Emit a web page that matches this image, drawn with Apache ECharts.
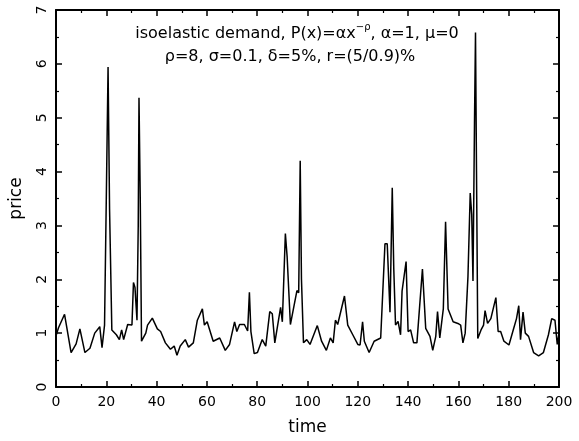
<!DOCTYPE html>
<html>
<head>
<meta charset="utf-8">
<script src="https://cdn.jsdelivr.net/npm/echarts@6/dist/echarts.min.js"></script>
<style>html,body{margin:0;padding:0;background:#fff;}#c{width:579px;height:441px;}</style>
</head>
<body>
<div id="c"></div>
<script>
var times = [0, 1, 3.4, 6, 8, 9.5, 11.5, 13.5, 15.4, 17.4, 18.3, 19.3, 20, 20.7, 21.3, 22.2, 24, 25.2, 26.1, 26.9, 28.5, 30.2, 30.8, 31.4, 32.2, 32.7, 33, 33.5, 34, 35.7, 36.4, 38.3, 40.3, 41.6, 43.5, 45.5, 47, 48.1, 49.4, 51.4, 52.7, 54.6, 56.2, 58.2, 59, 60.1, 62.5, 65.1, 67.3, 69, 71, 71.9, 73, 74.9, 76.2, 76.9, 77.5, 78.8, 80.1, 82, 83.4, 85, 86, 87, 89.3, 90, 91.2, 91.9, 93.2, 95.8, 96.5, 97.1, 97.6, 98.4, 99.7, 101, 103.9, 105.6, 107.5, 109.1, 110.2, 111.1, 112, 114.7, 116, 118, 120, 120.9, 121.9, 122.6, 124.5, 126.5, 129.1, 130.8, 131.7, 132.8, 133.7, 134.3, 135, 136, 137, 137.6, 139.2, 140, 141, 142.2, 143.5, 145.7, 147, 148.7, 149.8, 151, 151.7, 152.6, 154, 154.9, 155.9, 157.9, 159.8, 160.9, 161.8, 162.7, 163.8, 164.7, 165.3, 165.8, 166.4, 166.8, 167.2, 167.7, 169, 170, 170.6, 171.6, 172.9, 174.9, 175.8, 176.8, 178.1, 180.1, 182, 183.1, 184, 184.7, 185.7, 186.6, 187.9, 189.9, 191.9, 193.8, 195.8, 197.1, 198.4, 199.3, 200];
var prices = [0.95, 1.1, 1.35, 0.64, 0.8, 1.08, 0.64, 0.72, 1.0, 1.12, 0.73, 1.15, 3.5, 5.94, 3.3, 1.06, 0.97, 0.88, 1.06, 0.88, 1.16, 1.15, 1.94, 1.85, 1.24, 3.0, 5.37, 3.5, 0.85, 1.0, 1.15, 1.28, 1.08, 1.03, 0.82, 0.7, 0.76, 0.59, 0.76, 0.88, 0.74, 0.82, 1.24, 1.45, 1.15, 1.21, 0.85, 0.91, 0.68, 0.79, 1.21, 1.03, 1.16, 1.16, 1.04, 1.76, 1.03, 0.62, 0.64, 0.88, 0.76, 1.4, 1.36, 0.82, 1.48, 1.21, 2.85, 2.42, 1.16, 1.79, 1.75, 4.2, 2.0, 0.82, 0.88, 0.79, 1.14, 0.85, 0.68, 0.91, 0.82, 1.24, 1.16, 1.69, 1.15, 0.97, 0.79, 0.78, 1.21, 0.85, 0.64, 0.85, 0.91, 2.66, 2.66, 1.39, 3.7, 2.2, 1.15, 1.22, 0.97, 1.78, 2.33, 1.03, 1.06, 0.82, 0.82, 2.19, 1.09, 0.94, 0.68, 0.94, 1.4, 0.91, 1.45, 3.07, 1.45, 1.21, 1.18, 1.15, 0.82, 1.0, 2.05, 3.6, 3.2, 1.97, 4.9, 6.58, 4.0, 0.9, 1.06, 1.15, 1.42, 1.18, 1.27, 1.66, 1.03, 1.03, 0.85, 0.78, 1.09, 1.27, 1.51, 0.88, 1.39, 1.0, 0.94, 0.64, 0.58, 0.64, 0.97, 1.27, 1.24, 0.79, 1.0];
var xTicks = [0, 20, 40, 60, 80, 100, 120, 140, 160, 180, 200];
var yTicks = [0, 1, 2, 3, 4, 5, 6, 7];
var titleLine1 = 'isoelastic demand, P(x)=αx';
var titleSup = '−ρ';
var titleLine1b = ', α=1, μ=0';
var titleLine2 = 'ρ=8, σ=0.1, δ=5%, r=(5/0.9)%';
var xName = 'time';
var yName = 'price';

var FONT = 'DejaVu Sans';
var chart = echarts.init(document.getElementById('c'), null, {renderer: 'canvas'});
var data = times.map(function (t, i) { return [t, prices[i]]; });

function xAx(pos, showLabel) {
  return {
    type: 'value', position: pos, min: xTicks[0], max: xTicks[xTicks.length - 1], interval: 20,
    name: showLabel ? xName : '', nameLocation: 'middle', nameGap: 32,
    nameTextStyle: {fontFamily: FONT, fontSize: 17, color: '#000'},
    axisLine: {show: true, onZero: false, lineStyle: {color: '#000', width: 2}},
    axisTick: {show: true, inside: true, length: 6, lineStyle: {color: '#000', width: 1.5}},
    minorTick: {show: true, splitNumber: 2, length: 3, lineStyle: {color: '#000', width: 1.2}},
    axisLabel: {show: showLabel, margin: 8, fontFamily: FONT, fontSize: 14, color: '#000'},
    splitLine: {show: false}
  };
}
function yAx(pos, showLabel) {
  return {
    type: 'value', position: pos, min: yTicks[0], max: yTicks[yTicks.length - 1], interval: 1,
    name: showLabel ? yName : '', nameLocation: 'middle', nameGap: 31, nameRotate: 90,
    nameTextStyle: {fontFamily: FONT, fontSize: 17, color: '#000'},
    axisLine: {show: true, onZero: false, lineStyle: {color: '#000', width: 2}},
    axisTick: {show: true, inside: true, length: 6, lineStyle: {color: '#000', width: 1.5}},
    minorTick: {show: true, splitNumber: 2, length: 3, lineStyle: {color: '#000', width: 1.2}},
    axisLabel: {show: showLabel, rotate: 90, margin: 7, fontFamily: FONT, fontSize: 14, color: '#000'},
    splitLine: {show: false}
  };
}

chart.setOption({
  animation: false,
  backgroundColor: '#fff',
  grid: {left: 49, right: 20, top: 10, bottom: 48, containLabel: false},
  xAxis: [xAx('bottom', true), xAx('top', false)],
  yAxis: [yAx('left', true), yAx('right', false)],
  graphic: [
    {type: 'text', x: 297, y: 32, z: 10,
      style: {
        text: '{a|' + titleLine1 + '}{s|' + titleSup + '}{a|' + titleLine1b + '}',
        textAlign: 'center', textVerticalAlign: 'middle',
        rich: {
          a: {fontFamily: FONT, fontSize: 16, fill: '#000', verticalAlign: 'bottom'},
          s: {fontFamily: FONT, fontSize: 10, fill: '#000', verticalAlign: 'bottom', padding: [0, 0, 9, 0]}
        }
      }},
    {type: 'text', x: 290, y: 57, z: 10,
      style: {text: titleLine2, fontFamily: FONT, fontSize: 16, fill: '#000',
        textAlign: 'center', textVerticalAlign: 'middle'}}
  ],
  series: [{
    type: 'line', xAxisIndex: 0, yAxisIndex: 0, data: data,
    showSymbol: false, symbol: 'none',
    lineStyle: {color: '#000', width: 1.5}
  }]
});
</script>
</body>
</html>
